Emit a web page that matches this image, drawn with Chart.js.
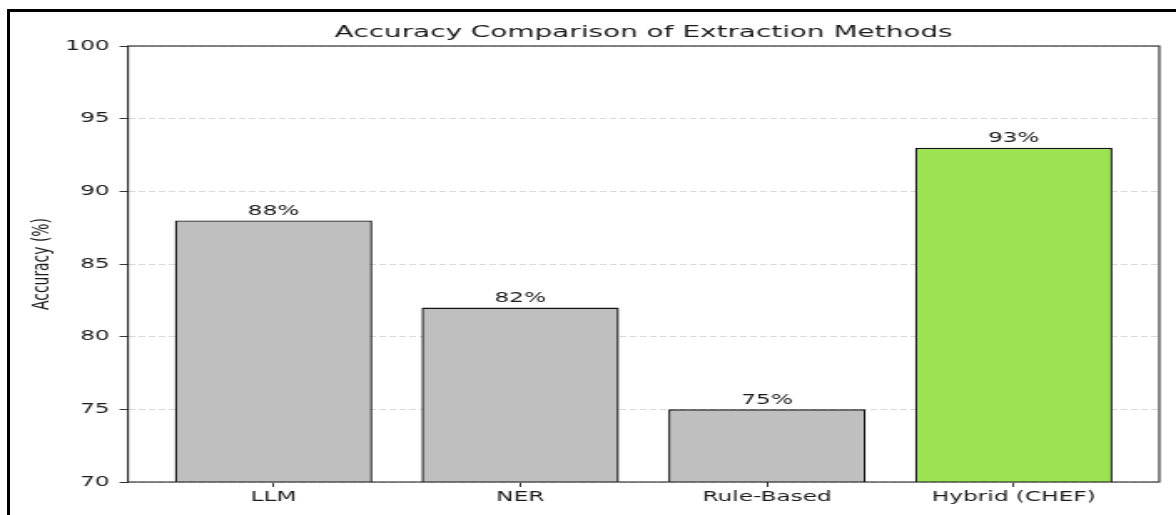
<!DOCTYPE html>
<html>
<head>
<meta charset="utf-8">
<script src="https://cdn.jsdelivr.net/npm/chart.js@4/dist/chart.umd.min.js"></script>
<style>
    html, body { margin: 0; padding: 0; background: #fff; }
    #page { position: relative; width: 1176px; height: 515px; overflow: hidden; }
    /* the source figure is stretched sideways, so draw narrow and scale */
    #plot { position: absolute; left: 0; top: 0; width: 704px; height: 515px;
            transform: scaleX(1.6705); transform-origin: 0 0; }
    #frame { position: absolute; left: 7px; top: 9px; width: 1300px; height: 600px;
             border-left: 3px solid #000; border-top: 3px solid #000; pointer-events: none; }
</style>
</head>
<body>
<div id="page">
    <div id="plot"><canvas id="accuracyChart"></canvas></div>
    <div id="frame"></div>
</div>
<script>
const methods = ['LLM', 'NER', 'Rule-Based', 'Hybrid (CHEF)'];
const accuracy = [88, 82, 75, 93];
const yTicks = [70, 75, 80, 85, 90, 95, 100];

const GRAY = '#bfbfbf';
const GREEN = '#9be350';
const FONT = "'DejaVu Sans', sans-serif";

// matplotlib-style spines, title and value labels
const decorations = {
    id: 'decorations',
    afterDatasetsDraw(chart) {
        const { ctx, chartArea: a } = chart;
        ctx.save();
        ctx.font = '13.9px ' + FONT;
        ctx.fillStyle = '#1a1a1a';
        ctx.textAlign = 'center';
        ctx.textBaseline = 'bottom';
        chart.getDatasetMeta(0).data.forEach((bar, i) => {
            ctx.fillText(accuracy[i] + '%', bar.x, bar.y - 2);
        });
        ctx.strokeStyle = '#262626';
        ctx.lineWidth = 1.1;
        ctx.strokeRect(a.left, a.top, a.right - a.left, a.bottom - a.top);
        ctx.font = '16.7px ' + FONT;
        ctx.textBaseline = 'alphabetic';
        ctx.fillText('Accuracy Comparison of Extraction Methods', (a.left + a.right) / 2, 37);
        ctx.restore();
    }
};

const ctx = document.getElementById('accuracyChart').getContext('2d');
new Chart(ctx, {
    type: 'bar',
    data: {
        datasets: [{
            data: accuracy.map((v, i) => ({ x: i, y: v })),
            backgroundColor: methods.map((m, i) => i === 3 ? GREEN : GRAY),
            borderColor: '#111',
            borderWidth: 1.4,
            borderSkipped: false,
            barPercentage: 0.8,
            categoryPercentage: 1.0
        }]
    },
    options: {
        responsive: true,
        maintainAspectRatio: false,
        animation: false,
        layout: { padding: { left: 0, top: 46, right: 10, bottom: 0 } },
        plugins: {
            legend: { display: false },
            tooltip: { enabled: false },
            title: { display: false }
        },
        scales: {
            x: {
                type: 'linear',
                offset: false,
                min: -0.59,
                max: 3.59,
                afterBuildTicks: scale => { scale.ticks = methods.map((m, i) => ({ value: i })); },
                afterFit: scale => { scale.height = 33; },
                grid: { offset: false, drawOnChartArea: false, drawTicks: true, tickLength: 5, tickColor: '#333', tickWidth: 1 },
                border: { display: false },
                ticks: {
                    autoSkip: false,
                    maxRotation: 0,
                    padding: 2,
                    color: '#1a1a1a',
                    font: { family: FONT, size: 13.9 },
                    callback: v => methods[v]
                }
            },
            y: {
                min: 70,
                max: 100,
                afterBuildTicks: scale => { scale.ticks = yTicks.map(v => ({ value: v })); },
                afterFit: scale => { scale.width = 76.6; },
                grid: {
                    color: '#d9d9d9',
                    lineWidth: 1,
                    tickLength: 5,
                    tickColor: '#333',
                    tickWidth: 1,
                    tickBorderDash: []
                },
                border: { display: false, dash: [4, 2] },
                ticks: {
                    padding: 6,
                    color: '#1a1a1a',
                    font: { family: FONT, size: 13.9 }
                },
                title: {
                    display: true,
                    text: 'Accuracy (%)',
                    color: '#1a1a1a',
                    padding: { top: 17, bottom: 0 },
                    font: { family: FONT, size: 13.9 }
                }
            }
        }
    },
    plugins: [decorations]
});
</script>
</body>
</html>
